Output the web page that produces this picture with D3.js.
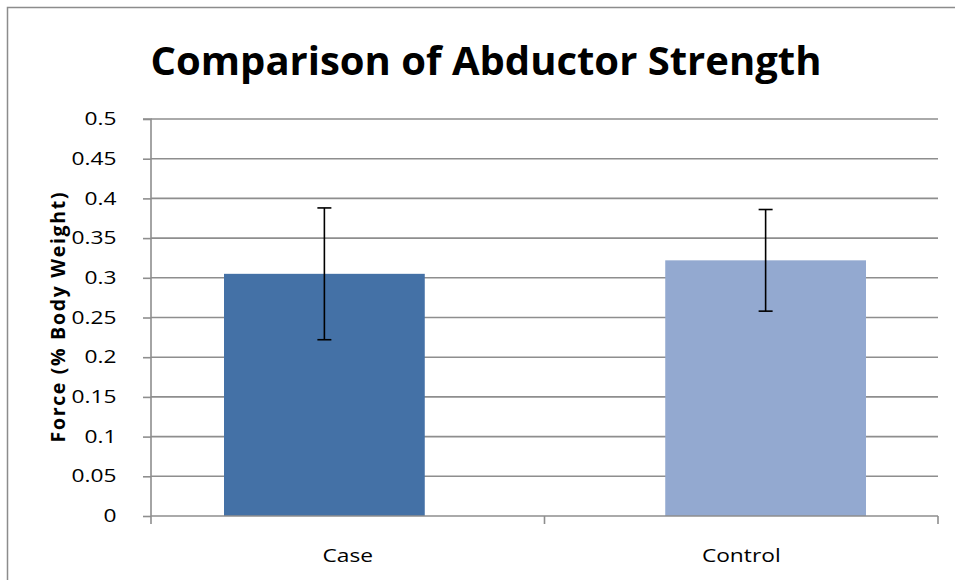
<!DOCTYPE html>
<html>
<head>
<meta charset="utf-8">
<script src="https://cdn.jsdelivr.net/npm/d3@7"></script>
<style>
  html, body { margin: 0; padding: 0; background: #fff; }
  svg { display: block; }
</style>
</head>
<body>
<svg id="chart" width="955" height="580"></svg>
<script>
const categories = ["Case", "Control"];
const values = [0.305, 0.322];
const errors = [0.083, 0.064];
const barColors = ["#4471A6", "#93A9D0"];
const yTicks = [0, 0.05, 0.1, 0.15, 0.2, 0.25, 0.3, 0.35, 0.4, 0.45, 0.5];
const titleText = "Comparison of Abductor Strength";
const yLabelText = "Force (% Body Weight)";

const W = 955, H = 580;
const plot = { left: 151, right: 938, top: 119, bottom: 516 };
const svg = d3.select("#chart");
const font = "'Open Sans', 'DejaVu Sans', sans-serif";
const stretch = 1.3;

// outer border (extends past the right/bottom edge)
svg.append("rect").attr("x", 7.5).attr("y", 7.5).attr("width", 1000).attr("height", 1000)
  .attr("fill", "#fff").attr("stroke", "#8c8c8c").attr("stroke-width", 1.5);

const y = d3.scaleLinear().domain([0, 0.5]).range([plot.bottom, plot.top]);
const xAxisScale = d3.scaleBand().domain(categories).range([plot.left, plot.right]).padding(0);
const xBar = d3.scaleBand().domain(categories).range([224, 866]).paddingInner(0.545).paddingOuter(0);

// gridlines
svg.append("g").selectAll("line").data(yTicks.filter(d => d > 0)).join("line")
  .attr("x1", plot.left).attr("x2", plot.right)
  .attr("y1", d => y(d)).attr("y2", d => y(d))
  .attr("stroke", "#8e8e8e").attr("stroke-width", 1.6);

// bars
svg.append("g").selectAll("rect").data(categories).join("rect")
  .attr("x", d => xBar(d)).attr("width", xBar.bandwidth())
  .attr("y", (d, i) => y(values[i])).attr("height", (d, i) => y(0) - y(values[i]))
  .attr("fill", (d, i) => barColors[i]);

// y axis
const yAxis = d3.axisLeft(y).tickValues(yTicks).tickSize(8).tickPadding(18.5)
  .tickFormat(d => d3.format("")(d));
const gy = svg.append("g").attr("transform", `translate(${plot.left},0)`).call(yAxis);
gy.select(".domain").attr("stroke", "#8e8e8e").attr("stroke-width", 1.6).attr("d", `M-8,${plot.top}H0V${plot.bottom}`);
gy.selectAll(".tick line").attr("stroke", "#8e8e8e").attr("stroke-width", 1.6);
gy.selectAll(".tick text").attr("font-family", font).attr("font-size", 17.5).attr("fill", "#000")
  .attr("transform", `scale(${stretch},1)`);

// x axis
const gx = svg.append("g").attr("transform", `translate(0,${plot.bottom})`)
  .call(d3.axisBottom(xAxisScale).tickSize(0).tickPadding(0));
gx.select(".domain").attr("stroke", "#8e8e8e").attr("stroke-width", 1.6).attr("d", `M${plot.left},0H${plot.right}`);
gx.selectAll(".tick text").attr("font-family", font).attr("font-size", 17.5).attr("fill", "#000")
  .attr("dy", "46px").attr("transform", `scale(${stretch},1)`);
// category boundary ticks
const boundaries = [plot.left, ...categories.slice(1).map(c => xAxisScale(c)), plot.right];
gx.append("g").selectAll("line").data(boundaries).join("line")
  .attr("x1", d => d).attr("x2", d => d).attr("y1", 0).attr("y2", 8)
  .attr("stroke", "#8e8e8e").attr("stroke-width", 1.6);

// error bars
const eg = svg.append("g").attr("stroke", "#000").attr("stroke-width", 1.6);
categories.forEach((c, i) => {
  const cx = xBar(c) + xBar.bandwidth() / 2;
  const y1 = y(values[i] + errors[i]), y2 = y(values[i] - errors[i]);
  eg.append("line").attr("x1", cx).attr("x2", cx).attr("y1", y1).attr("y2", y2);
  eg.append("line").attr("x1", cx - 7).attr("x2", cx + 7).attr("y1", y1).attr("y2", y1);
  eg.append("line").attr("x1", cx - 7).attr("x2", cx + 7).attr("y1", y2).attr("y2", y2);
});

// title
svg.append("text").attr("x", 486).attr("y", 75).attr("text-anchor", "middle")
  .attr("font-family", font).attr("font-weight", "bold").attr("font-size", 40)
  .attr("fill", "#000").text(titleText);

// y label
svg.append("text").attr("transform", `translate(65,${(plot.top + plot.bottom) / 2}) rotate(-90)`)
  .attr("text-anchor", "middle").attr("font-family", font).attr("font-weight", "bold")
  .attr("font-size", 19.5).attr("textLength", 250).attr("lengthAdjust", "spacing")
  .attr("fill", "#000").text(yLabelText);
</script>
</body>
</html>
